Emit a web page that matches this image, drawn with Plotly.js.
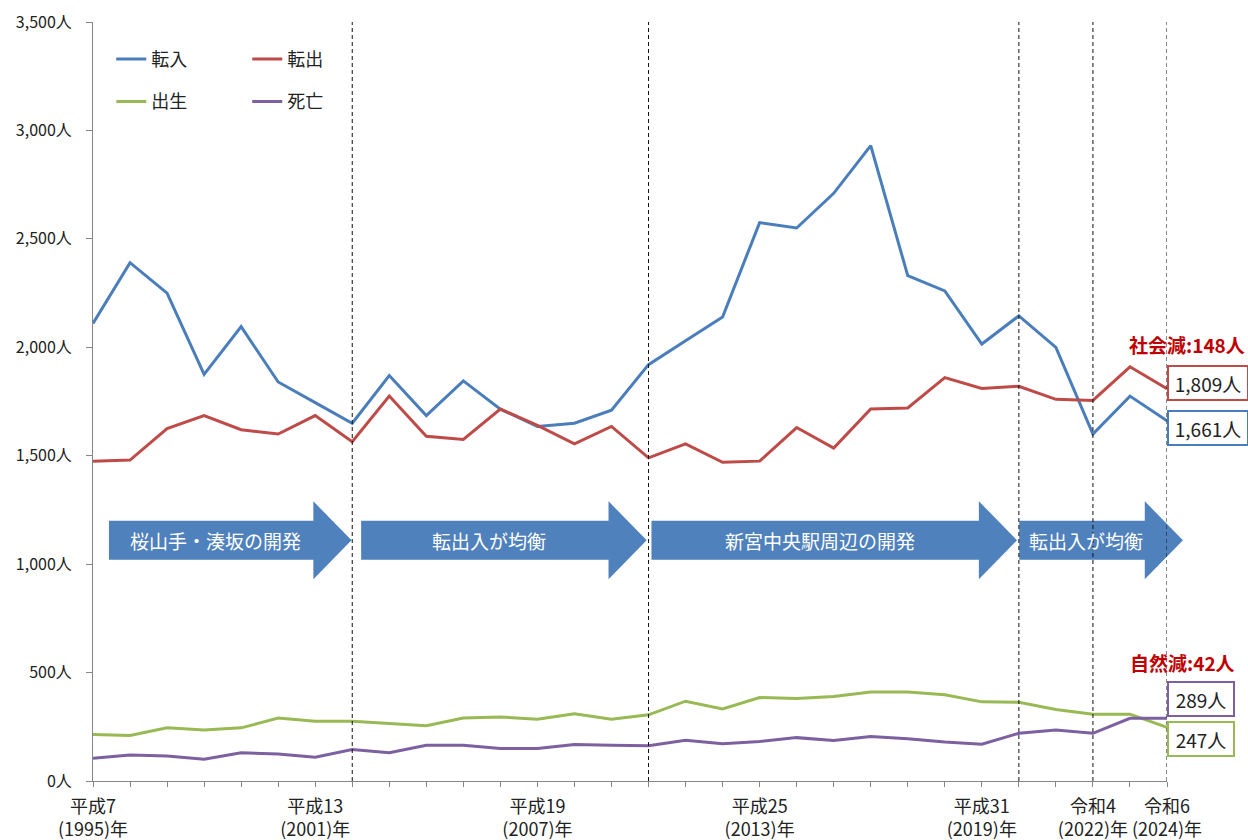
<!DOCTYPE html>
<html>
<head>
<meta charset="utf-8">
<script src="https://cdn.plot.ly/plotly-3.0.1.min.js"></script>
<style>html,body{margin:0;padding:0;background:#fff;}</style>
</head>
<body>
<div id="chart" style="width:1248px;height:840px;"></div>
<script>
// ---- data ----
const years = [1995,1996,1997,1998,1999,2000,2001,2002,2003,2004,2005,2006,2007,2008,2009,
               2010,2011,2012,2013,2014,2015,2016,2017,2018,2019,2020,2021,2022,2023,2024];
const moveIn  = [2110,2390,2250,1875,2095,1840,1745,1650,1870,1685,1845,1715,1635,1650,1710,
                 1920,2030,2140,2575,2550,2710,2930,2330,2260,2015,2145,2000,1600,1775,1661];
const moveOut = [1475,1480,1625,1685,1620,1600,1685,1565,1775,1590,1575,1715,1640,1555,1635,
                 1490,1555,1470,1475,1630,1535,1715,1720,1860,1810,1820,1760,1755,1910,1809];
const births  = [215,210,245,235,245,290,275,275,265,255,290,295,285,310,285,
                 305,368,332,385,380,390,410,410,398,365,363,330,308,308,247];
const deaths  = [105,120,115,100,130,125,110,145,130,165,165,150,150,168,165,
                 163,188,172,182,200,187,205,195,180,170,220,235,220,289,289];
const seriesNames = ['転入','転出','出生','死亡'];
const tickYears  = [1995,2001,2007,2013,2019,2022,2024];
const tickLabels = ['平成7<br>(1995)年','平成13<br>(2001)年','平成19<br>(2007)年','平成25<br>(2013)年',
                    '平成31<br>(2019)年','令和4<br>(2022)年','令和6<br>(2024)年'];
const dividerYears = [2002,2010,2020,2022,2024];
const phaseLabels = ['桜山手・湊坂の開発','転出入が均衡','新宮中央駅周辺の開発','転出入が均衡'];
const phaseStarts = [1995.43,2002.24,2010.08,2020.01];
const phaseTips   = [2001.98,2009.95,2019.95,2024.43];

// ---- style ----
const FONT = '"Noto Sans CJK JP", "Noto Sans", sans-serif';
const colors = ['#4A7EBB','#BE4B48','#98B954','#7D60A0'];
const xRange = [1995, 2024];
const yRange = [0, 3500];
const xp = v => (v - xRange[0]) / (xRange[1] - xRange[0]);
const yp = v => (v - yRange[0]) / (yRange[1] - yRange[0]);

const seriesValues = [moveIn, moveOut, births, deaths];
const traces = seriesValues.map((vals, i) => ({
  x: years, y: vals, type: 'scatter', mode: 'lines', name: seriesNames[i],
  line: {color: colors[i], width: 3},
  legend: i < 2 ? 'legend' : 'legend2',
  hoverinfo: 'skip'
}));

const shapes = [];
dividerYears.forEach(yr => shapes.push({
  type: 'line', xref: 'x', yref: 'paper', x0: yr, x1: yr, y0: 0, y1: 1,
  line: {color: '#111', width: 1, dash: '4px,3px'}, layer: 'above'
}));
// arrows
const bodyLo = 1020, bodyHi = 1200, headLo = 930, headHi = 1290, headLen = 1.03;
const annotations = [];
phaseLabels.forEach((lab, i) => {
  const s = phaseStarts[i], t = phaseTips[i], h = t - headLen, m = (bodyLo + bodyHi) / 2;
  const P = (x, y) => xp(x).toFixed(5) + ',' + yp(y).toFixed(5);
  shapes.push({
    type: 'path', xref: 'paper', yref: 'paper', layer: 'below',
    path: 'M' + P(s, bodyHi) + ' L' + P(h, bodyHi) + ' L' + P(h, headHi) + ' L' + P(t, m) +
          ' L' + P(h, headLo) + ' L' + P(h, bodyLo) + ' L' + P(s, bodyLo) + ' Z',
    fillcolor: '#4F81BD', line: {width: 0}
  });
  annotations.push({
    xref: 'paper', yref: 'paper', x: xp((s + h) / 2 + 0.12), y: yp(m), showarrow: false,
    text: lab, font: {family: FONT, size: 19, color: '#fff'}, xanchor: 'center', yanchor: 'middle'
  });
});

const last = years.length - 1;
const fmt = v => v.toLocaleString('en-US') + '人';
const boxes = [
  {v: moveOut[last], c: colors[1], shift: 6, w: 74},
  {v: moveIn[last],  c: colors[0], shift: -7, w: 74},
  {v: deaths[last],  c: colors[3], shift: 19, w: 60},
  {v: births[last],  c: colors[2], shift: -12, w: 60}
];
boxes.forEach(b => annotations.push({
  xref: 'x', yref: 'y', x: years[last], y: b.v, xanchor: 'left', yanchor: 'middle', yshift: b.shift,
  showarrow: false, text: fmt(b.v), width: b.w, height: 28, borderpad: 2, borderwidth: 2,
  bordercolor: b.c, bgcolor: '#fff', font: {family: FONT, size: 19, color: '#222'}, align: 'center'
}));
annotations.push({
  xref: 'paper', yref: 'paper', x: 1, y: (781.5 - 345) / 759.5, xshift: 20, showarrow: false,
  text: '<b>社会減:' + (moveOut[last] - moveIn[last]) + '人</b>', xanchor: 'center', yanchor: 'middle',
  font: {family: FONT, size: 19, color: '#C00000'}
});
annotations.push({
  xref: 'paper', yref: 'paper', x: 1, y: (781.5 - 663) / 759.5, xshift: 15, showarrow: false,
  text: '<b>自然減:' + (deaths[last] - births[last]) + '人</b>', xanchor: 'center', yanchor: 'middle',
  font: {family: FONT, size: 19, color: '#C00000'}
});

const legendBase = {
  orientation: 'h', xanchor: 'left', yanchor: 'middle', x: 0.017,
  entrywidth: 91, entrywidthmode: 'pixels', bgcolor: 'rgba(0,0,0,0)',
  font: {family: FONT, size: 18, color: '#222'}, itemwidth: 30, traceorder: 'normal'
};

const layout = {
  width: 1248, height: 840,
  margin: {l: 93, r: 81, t: 22, b: 58.5, pad: 0},
  paper_bgcolor: '#fff', plot_bgcolor: '#fff',
  font: {family: FONT, color: '#222'},
  showlegend: true,
  legend: Object.assign({}, legendBase, {y: 0.951}),
  legend2: Object.assign({}, legendBase, {y: 0.895}),
  xaxis: {
    range: xRange, tickmode: 'array', tickvals: tickYears, ticktext: tickLabels,
    ticks: 'outside', ticklen: 5, tickcolor: '#868686', tickwidth: 1, ticklabelstandoff: 4,
    minor: {tickmode: 'array', tickvals: years, ticks: 'outside', ticklen: 5, tickcolor: '#868686', tickwidth: 1, showgrid: false},
    showline: true, linecolor: '#868686', linewidth: 1, showgrid: false, zeroline: false,
    tickfont: {family: FONT, size: 18, color: '#222'}, tickangle: 0, fixedrange: true
  },
  yaxis: {
    range: yRange, dtick: 500, tick0: 0, tickformat: ',', ticksuffix: '人',
    ticks: 'outside', ticklen: 6, tickcolor: '#868686', tickwidth: 1, ticklabelstandoff: 11,
    showline: true, linecolor: '#868686', linewidth: 1, showgrid: false, zeroline: false,
    tickfont: {family: FONT, size: 16, color: '#222'}, fixedrange: true
  },
  shapes: shapes,
  annotations: annotations
};

Plotly.newPlot('chart', traces, layout, {displayModeBar: false, staticPlot: true});
</script>
</body>
</html>
